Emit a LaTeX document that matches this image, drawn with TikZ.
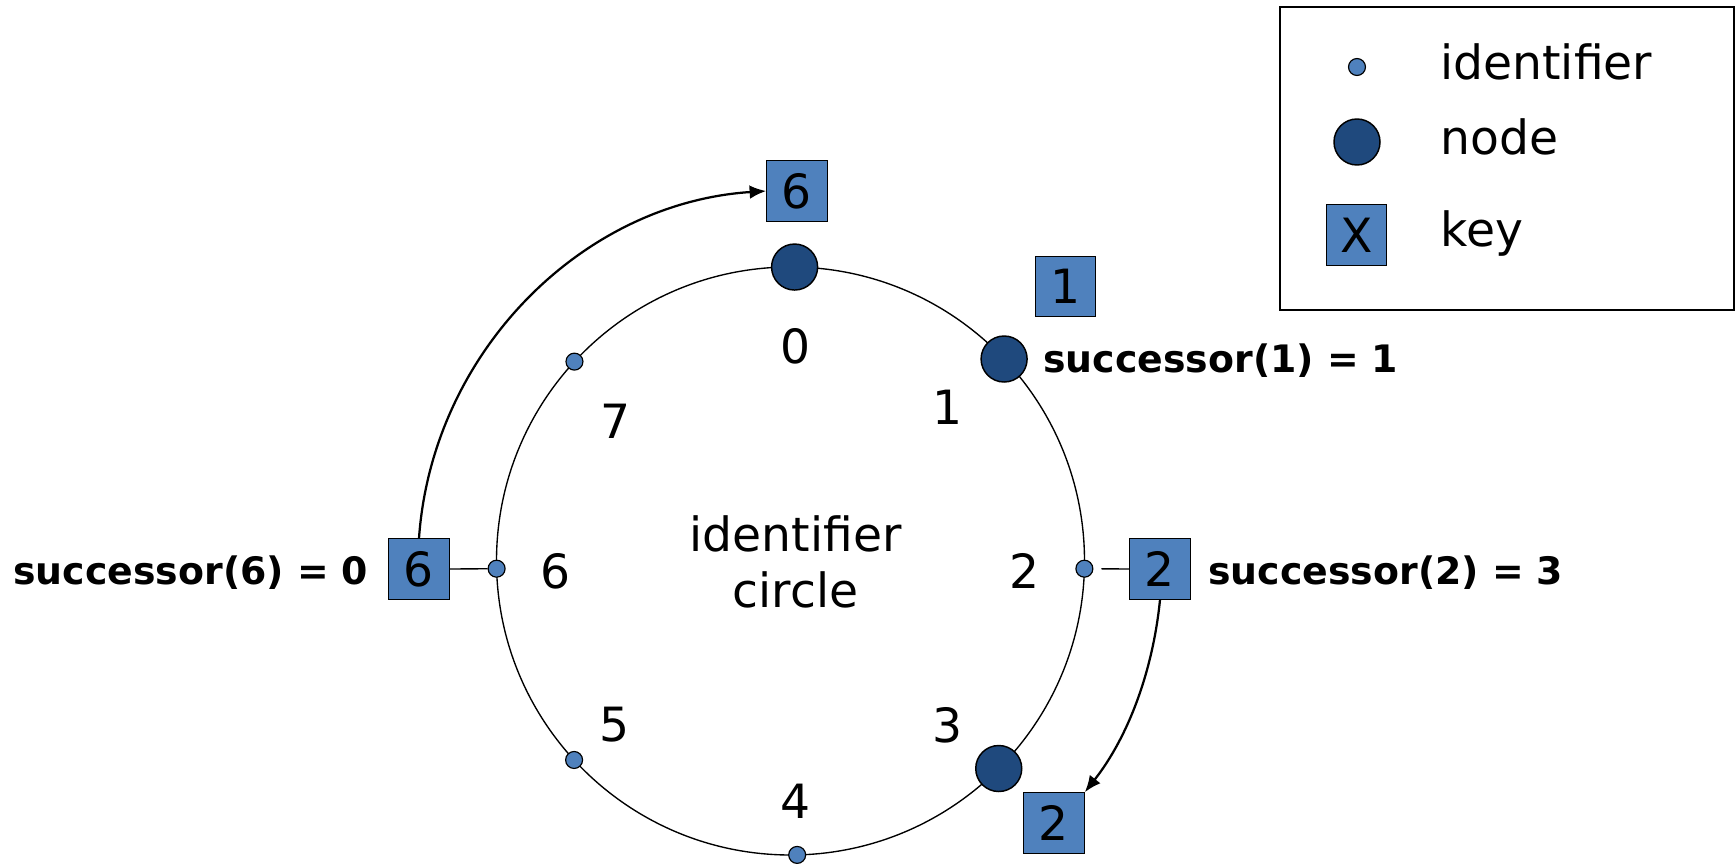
\documentclass[tikz,border=0pt]{standalone}
\usepackage{fontspec}
\setmainfont{DejaVu Sans}
\usetikzlibrary{arrows.meta,calc}
\definecolor{keyblue}{RGB}{79,129,189}
\definecolor{nodeblue}{RGB}{31,73,125}
\begin{document}
\begin{tikzpicture}[x=0.5128pt, y=0.5128pt,
  big/.style={font=\fontsize{24.2}{29}\selectfont},
  bold/.style={font=\fontsize{19.4}{24}\selectfont\bfseries, anchor=base west, inner sep=0pt},
  idot/.style={circle, draw=black, line width=0.6pt, fill=keyblue, minimum size=8.7pt, inner sep=0pt},
  bignode/.style={circle, draw=black, line width=0.75pt, fill=nodeblue, minimum size=23.6pt, inner sep=0pt},
  keybox/.style={rectangle, draw=black, line width=0.6pt, fill=keyblue, minimum size=31pt, inner sep=0pt, big},
  lbl/.style={big, inner sep=0pt},
  succ/.style={line width=1.15pt, -{Latex[length=8.5pt, width=7pt]}},
  link/.style={line width=0.7pt}]
\useasboundingbox (0,0) rectangle (1735,864);

% the identifier circle
\coordinate (c) at (790.5,303);
\draw[line width=0.7pt] (c) circle[radius=294];

% identifiers and nodes on the circle
\node[bignode] (n0) at ($(c)+(89.2:294)$) {};
\node[bignode] (n1) at ($(c)+(43.4:294)$) {};
\node[idot]    (i2) at ($(c)+(-1.5:294)$) {};
\node[bignode] (n3) at ($(c)+(-44.9:294)$) {};
\node[idot]    (i4) at ($(c)+(-88.7:294)$) {};
\node[idot]    (i5) at ($(c)+(-137.4:294)$) {};
\node[idot]    (i6) at ($(c)+(181.5:294)$) {};
\node[idot]    (i7) at ($(c)+(137.3:294)$) {};

% identifier numbers inside the circle
\node[lbl] (l0) at (796,518) {0};
\node[lbl] (l1) at (948,457) {1};
\node[lbl] (l2) at (1024.6,293) {2};
\node[lbl] (l3) at (948,139) {3};
\node[lbl] (l4) at (795.6,63) {4};
\node[lbl] (l5) at (615,139) {5};
\node[lbl] (l6) at (555.5,293) {6};
\node[lbl] (l7) at (616,443) {7};
\node[lbl, align=center, anchor=north] (title) at (795.6,349) {identifier\\circle};

% keys
\node[keybox] (k6t) at (797,673) {6};
\node[keybox] (k1)  at (1065.5,577.5) {1};
\node[keybox] (k6l) at (419,295) {6};
\node[keybox] (k2r) at (1160,295) {2};
\node[keybox] (k2b) at (1054,41) {2};

% successor labels
\node[bold] (s6) at (13,280) {successor(6) = 0};
\node[bold] (s2) at (1208,280) {successor(2) = 3};
\node[bold] (s1) at (1043,492) {successor(1) = 1};

% key to identifier links
\draw[link] (k6l.east) -- (i6);
\draw[link, shorten >=0pt, shorten <=4pt] (i2) -- (k2r.west);

% keys moved to their successor nodes
\draw[succ] (k6l.north) .. controls +(13,185) and +(-185,-12) .. (k6t.west);
\draw[succ] (k2r.south) .. controls +(-7,-70) and +(44,56) .. (k2b.north east);

% legend
\draw[line width=1pt] (1280,554) rectangle (1734,857);
\node[idot]    (ld) at (1357,797) {};
\node[bignode] (ln) at (1357,722) {};
\node[keybox]  (lk) at (1356.5,629) {X};
\node[lbl, anchor=base west] (lt1) at (1440,784) {identifier};
\node[lbl, anchor=base west] (lt2) at (1440,709) {node};
\node[lbl, anchor=base west] (lt3) at (1440,617) {key};
\end{tikzpicture}
\end{document}
